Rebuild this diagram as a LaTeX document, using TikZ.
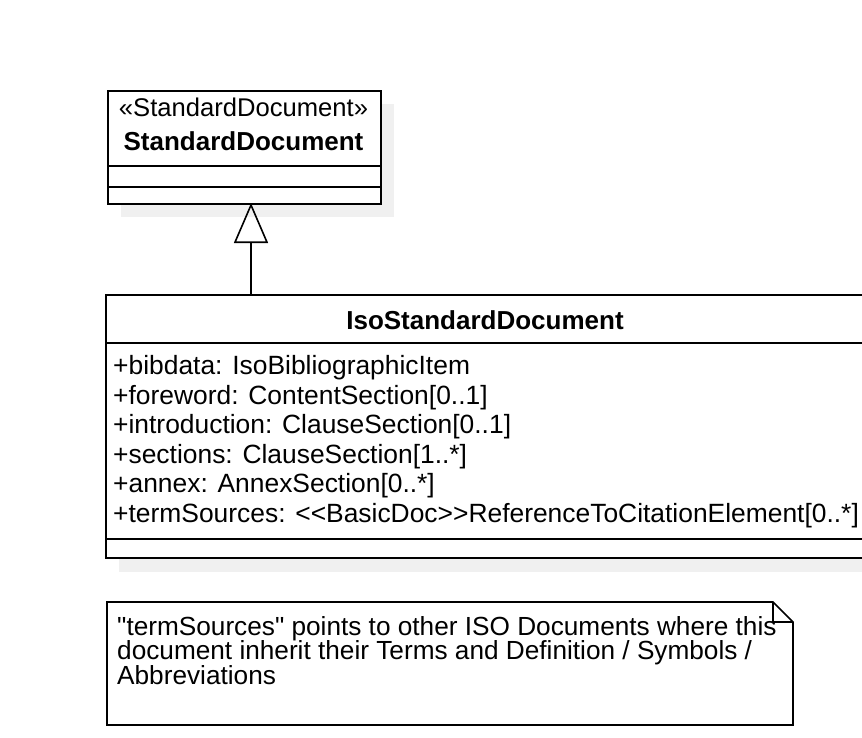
\documentclass[tikz,border=0pt]{standalone}
\usepackage{fontspec}
\setmainfont{Liberation Sans}
\newfontfamily\notefont{Liberation Sans}
\usetikzlibrary{arrows.meta}
\definecolor{shadowgray}{HTML}{F0F0F0}
\tikzset{
  classbox/.style={draw=black, line width=1.6pt, fill=white, anchor=north west, inner sep=0pt},
  shadowbox/.style={fill=shadowgray, draw=none, anchor=north west, inner sep=0pt},
  divider/.style={line width=1.6pt},
  attr/.style={anchor=west, inner sep=0pt, font=\fontsize{26.4}{29.5}\selectfont},
  ttl/.style={inner sep=0pt, font=\fontsize{25.6}{30}\selectfont},
  gen/.style={line width=1.6pt, -{Triangle[open, width=34pt, length=40pt, line width=1.6pt]}},
  notetext/.style={anchor=north west, inner sep=0pt, align=left, font=\notefont\fontsize{26.2}{24.5}\selectfont}
}
\begin{document}
\begin{tikzpicture}[x=1pt, y=-1pt]
\useasboundingbox (0,0) rectangle (862,738);
\begin{scope}
\clip (0,0) rectangle (862,738);
% shadows
\node[shadowbox, minimum width=273pt, minimum height=113pt] (stdsh) at (121,104) {};
\node[shadowbox, minimum width=760pt, minimum height=263pt] (isosh) at (119,309) {};
% StandardDocument
\node[classbox, minimum width=273pt, minimum height=113pt] (std) at (107,90) {};
\draw[divider] (107,166) -- (380,166);
\draw[divider] (107,187) -- (380,187);
\node[ttl] (stdster) at (243.5,107) {«StandardDocument»};
\node[ttl, font=\fontsize{26}{30}\selectfont\bfseries] (stdname) at (243.5,141) {StandardDocument};
% IsoStandardDocument
\node[classbox, minimum width=760pt, minimum height=263pt] (iso) at (105,294) {};
\draw[divider] (105,343) -- (866,343);
\draw[divider] (105,539) -- (866,539);
\node[ttl, font=\fontsize{26}{30}\selectfont\bfseries] (isoname) at (485,320) {IsoStandardDocument};
\node[attr] (a1) at (113,368) {+bibdata: IsoBibliographicItem};
\node[attr] (a2) at (113,397.5) {+foreword: ContentSection[0..1]};
\node[attr] (a3) at (113,427) {+introduction: ClauseSection[0..1]};
\node[attr] (a4) at (113,456.5) {+sections: ClauseSection[1..*]};
\node[attr] (a5) at (113,486) {+annex: AnnexSection[0..*]};
\node[attr] (a6) at (113,515.5) {+termSources: <{}<BasicDoc>{}>ReferenceToCitationElement[0..*]};
% generalization
\coordinate (genstart) at (251,294);
\coordinate (genend) at (251,203);
\draw[gen] (genstart) -- (genend);
% note
\draw[line width=1.6pt, fill=white] (107,602) -- (773,602) -- (793,622) -- (793,725) -- (107,725) -- cycle;
\draw[line width=1.6pt] (773,602) -- (773,622) -- (793,622);
\node[notetext] (note) at (117,616) {"termSources" points to other ISO Documents where this\\document inherit their Terms and Definition / Symbols /\\Abbreviations};
\end{scope}
\end{tikzpicture}
\end{document}
